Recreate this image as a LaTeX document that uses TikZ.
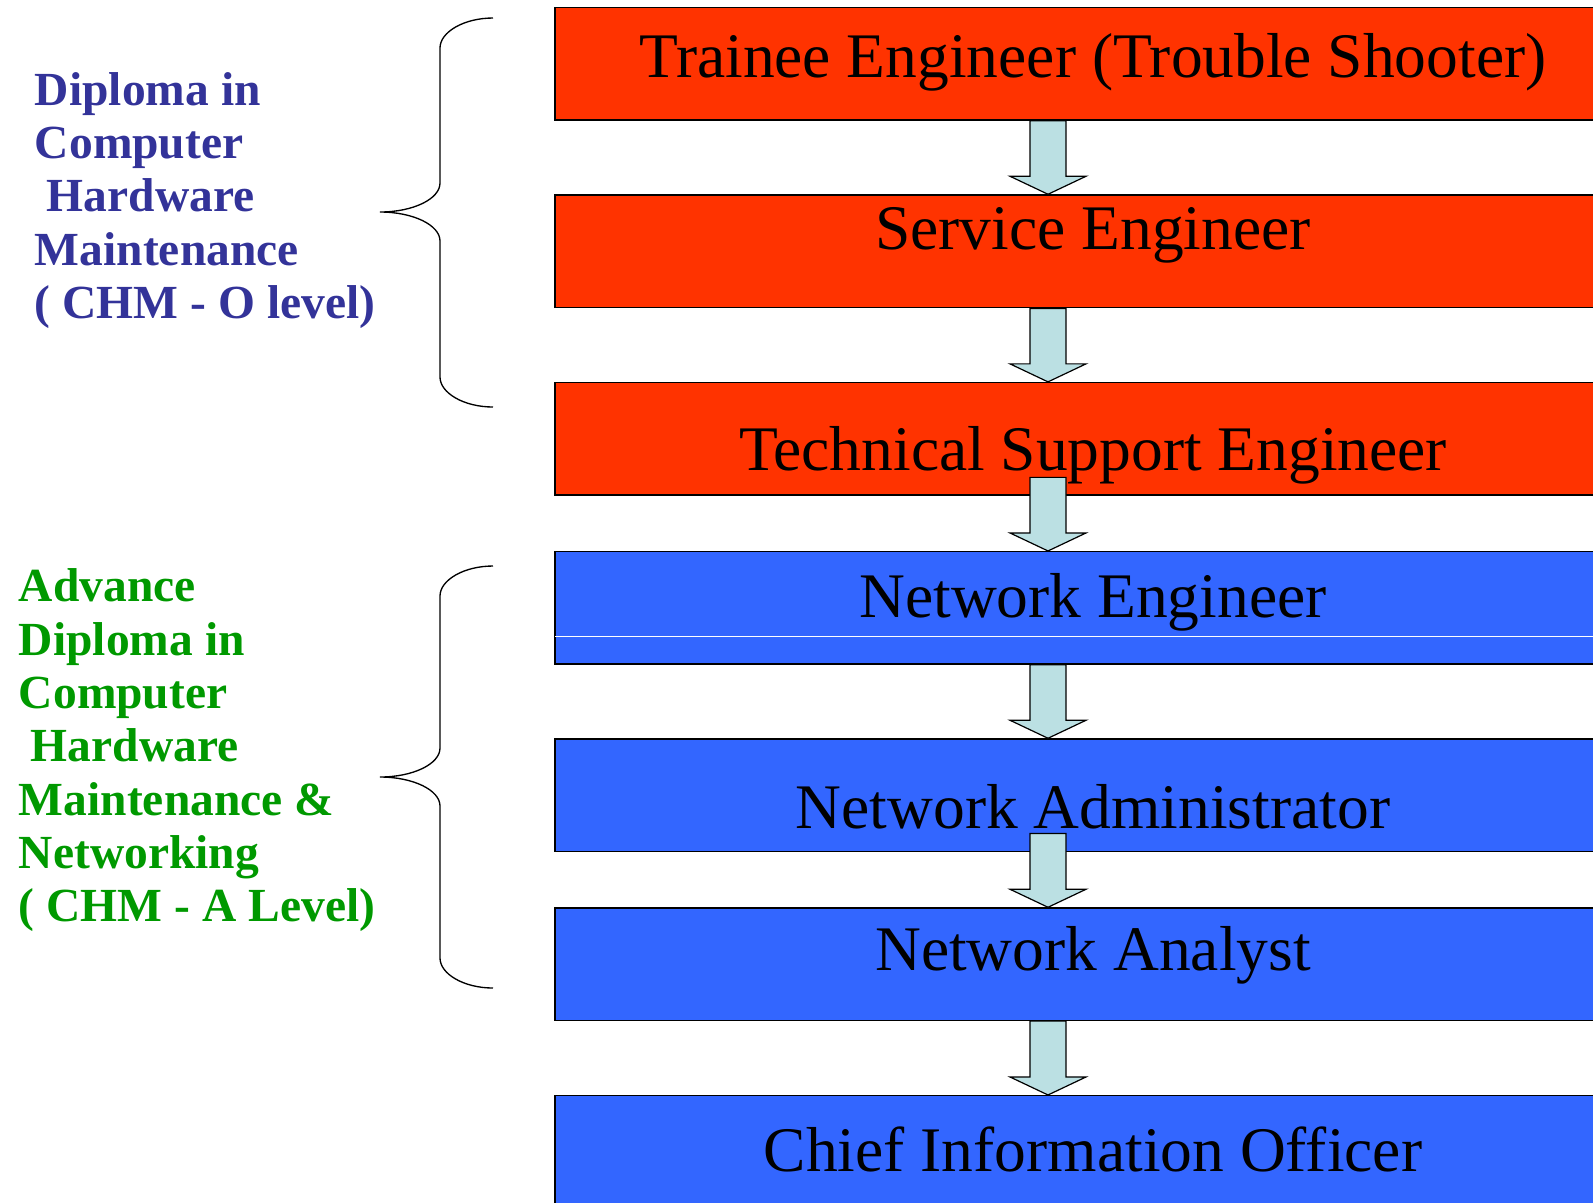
\documentclass[tikz,border=0pt]{standalone}
\usepackage{fontspec}
\setmainfont{Liberation Serif}
\usetikzlibrary{calc}
\definecolor{ORed}{HTML}{FF3300}
\definecolor{NBlue}{HTML}{3366FF}
\definecolor{ASky}{HTML}{BBE0E3}
\definecolor{DIndigo}{HTML}{333399}
\definecolor{AGreen}{HTML}{009900}
\tikzset{
    job/.style = {draw, rectangle, line width=0.45pt, inner sep=0pt,
        minimum width=322.8pt, anchor=base,
        font=\fontsize{19.05pt}{22pt}\selectfont},
    hwjob/.style = {job, fill=ORed},
    netjob/.style = {job, fill=NBlue},
    course/.style = {anchor=base west, inner sep=0pt, text width=130pt, align=flush left,
        font=\fontsize{14.25pt}{16pt}\selectfont\bfseries},
    brace/.style = {draw, line width=0.4pt},
    promote/.style = {draw, fill=ASky, line width=0.36pt}
}
% fat arrow from one job to the next, on the spine
\newcommand{\promotion}[2]{%
    \draw[promote] ($(#1 -| spine)+(-18,0)$) -- ($(#2 -| spine)+(-18,-18)$)
        -- ($(#2 -| spine)+(-38,-18)$) -- (#2 -| spine)
        -- ($(#2 -| spine)+(38,-18)$) -- ($(#2 -| spine)+(18,-18)$)
        -- ($(#1 -| spine)+(18,0)$) -- cycle;}

\begin{document}
\begin{tikzpicture}[x=0.3pt,y=-0.3pt]
        \useasboundingbox (0,0) rectangle (1593,1202);
        \clip (0,0) rectangle (1593,1202);
        % hardware jobs
        \node[hwjob, text height=20.94pt, text depth=12.81pt] (trainee) at (1093,77.3) {Trainee Engineer (Trouble Shooter)};
        \node[hwjob, text height=16.29pt, text depth=17.52pt] (service) at (1093,249.3) {Service Engineer};
        \node[hwjob, text height=26.34pt, text depth=7.44pt] (support) at (1093,470.4) {Technical Support Engineer};
        % networking jobs
        \node[netjob, text height=19.8pt, text depth=13.89pt] (neteng) at (1093,617.7) {Network Engineer};
        \draw[white, line width=0.3pt] ($(neteng.south west)+(1,-28.7)$) -- ($(neteng.south east)+(-1,-28.7)$);
        \node[netjob, text height=26.7pt, text depth=7.11pt] (netadmin) at (1093,828) {Network Administrator};
        \node[netjob, text height=18.6pt, text depth=15.09pt] (analyst) at (1093,970) {Network Analyst};
        \node[netjob, text height=22.8pt, text depth=10.89pt] (cio) at (1093,1171.7) {Chief Information Officer};

        \coordinate (spine) at (1048,0);
        \coordinate (supportfoot) at ($(support.south)+(0,-18.6)$);
        \coordinate (adminfoot) at ($(netadmin.south)+(0,-19)$);
        \promotion{trainee.south}{service.north}
        \promotion{service.south}{support.north}
        \promotion{supportfoot}{neteng.north}
        \promotion{neteng.south}{netadmin.north}
        \promotion{adminfoot}{analyst.north}
        \promotion{analyst.south}{cio.north}

        % courses
        \foreach \ya/\ym/\yb in {18/212/407, 566/777/988}
            \draw[brace] (493,\ya) .. controls (464,\ya) and (440,\ya+14) .. (440,\ya+30)
                -- (440,\ym-29) .. controls (440,\ym-13) and (413,\ym) .. (380,\ym)
                .. controls (413,\ym) and (440,\ym+13) .. (440,\ym+29)
                -- (440,\yb-30) .. controls (440,\yb-14) and (464,\yb) .. (493,\yb);
        \node[course, text=DIndigo] (olevel) at (34.3,105) {Diploma in\\ Computer\\ \hspace*{0.25em}Hardware\\ Maintenance\\ ( CHM - O level)};
        \node[course, text=AGreen] (alevel) at (18.3,601.7) {Advance\\ Diploma in\\ Computer\\ \hspace*{0.25em}Hardware\\ Maintenance \&\\ Networking\\ ( CHM - A Level)};
\end{tikzpicture}
\end{document}
